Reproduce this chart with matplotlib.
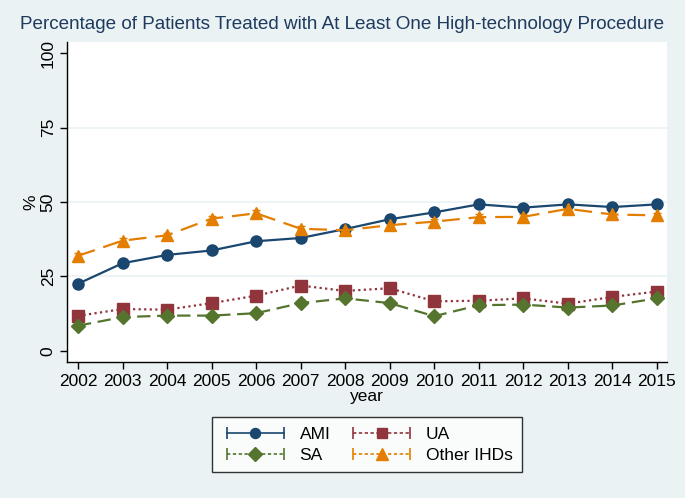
import numpy as np
import matplotlib
matplotlib.use('Agg')
import matplotlib.pyplot as plt
from matplotlib.lines import Line2D
from matplotlib.legend_handler import HandlerLine2D, HandlerTuple

plt.rcParams['font.family'] = ['Liberation Sans', 'DejaVu Sans']

years = list(range(2002, 2016))
ami = [22.5, 29.4, 32.2, 33.7, 36.8, 37.9, 40.9, 44.2, 46.5, 49.2, 48.1, 49.2, 48.3, 49.2]
ua = [11.7, 14.0, 13.8, 16.0, 18.5, 21.9, 20.1, 21.0, 16.6, 16.8, 17.6, 15.8, 18.1, 19.9]
sa = [8.4, 11.3, 11.8, 11.8, 12.6, 16.0, 17.6, 16.0, 11.6, 15.3, 15.5, 14.5, 15.2, 17.6]
other = [31.9, 37.0, 38.8, 44.4, 46.2, 41.0, 40.5, 42.2, 43.4, 44.9, 45.0, 47.7, 45.8, 45.5]
# half-widths of the confidence intervals
ami_err = [0.6, 0.6, 0.6, 0.6, 0.6, 0.6, 0.6, 0.6, 0.6, 0.6, 0.6, 0.6, 0.6, 0.6]
ua_err = [1.2, 1.4, 1.2, 1.4, 1.5, 1.6, 1.4, 1.6, 1.6, 1.4, 1.5, 1.2, 1.5, 1.4]
sa_err = [0.9, 1.0, 0.9, 0.9, 0.9, 1.0, 1.0, 1.0, 1.0, 1.0, 1.0, 0.9, 1.0, 1.0]
other_err = [0.9, 0.9, 0.9, 1.0, 1.0, 0.9, 0.9, 0.9, 0.9, 0.9, 0.9, 0.9, 0.9, 0.9]

navy = '#1a476f'
maroon = '#90353b'
green = '#55752f'
orange = '#e37e00'
bg = '#eaf2f3'

fig = plt.figure(figsize=(6.85, 4.98), dpi=100, facecolor=bg)
ax = fig.add_axes([0.0985, 0.2737, 0.8755, 0.642])
ax.set_facecolor('white')

series = [
    ('AMI', ami, ami_err, navy, '-', 'o', 8),
    ('UA', ua, ua_err, maroon, (0, (1, 1.5)), 's', 8),
    ('SA', sa, sa_err, green, (0, (6, 3)), 'D', 7.5),
    ('Other IHDs', other, other_err, orange, (0, (8, 4)), '^', 9),
]
handles = {}
handler_map = {}
for name, vals, err, col, ls, mk, ms in series:
    ax.errorbar(years, vals, yerr=err, color=col, ls=ls, lw=1.6, marker=mk, ms=ms,
                capsize=3, elinewidth=1, capthick=1, zorder=3)
    cap = Line2D([], [], color=col, lw=1.2, ls='-' if name == 'AMI' else (0, (2, 1.5)),
                 marker='|', markersize=9, markeredgewidth=1.2)
    dot = Line2D([], [], color=col, ls='none', marker=mk, markersize=ms * 0.9)
    handles[name] = (cap, dot)
    handler_map[cap] = HandlerLine2D(numpoints=2)
    handler_map[dot] = HandlerLine2D(numpoints=1)
handler_map[tuple] = HandlerTuple(ndivide=1)

ax.set_xlim(2001.764, 2015.23)
ax.set_ylim(-3.7, 103.8)
ax.set_xticks(years)
ax.set_yticks([0, 25, 50, 75, 100])
ax.set_yticklabels(['0', '25', '50', '75', '100'], rotation=90, va='center')
for y in [25, 50, 75]:
    ax.axhline(y, color=bg, lw=1.2, zorder=1)
for s in ['top', 'right']:
    ax.spines[s].set_visible(False)
for s in ['left', 'bottom']:
    ax.spines[s].set_color('black')
    ax.spines[s].set_linewidth(1.0)
ax.tick_params(labelsize=12.5, length=5, width=1, colors='black')
ax.set_ylabel('%', fontsize=12.5, labelpad=2)
ax.set_xlabel('year', fontsize=12.5, labelpad=0)
fig.suptitle('Percentage of Patients Treated with At Least One High-technology Procedure',
             fontsize=13.6, color='#1e3a5f', y=0.967)

# matplotlib fills legend columns first
order = ['AMI', 'SA', 'UA', 'Other IHDs']
leg = fig.legend([handles[n] for n in order], order, handler_map=handler_map,
                 loc='center', bbox_to_anchor=(0.536, 0.107), ncol=2, fontsize=12.5,
                 frameon=True, fancybox=False, edgecolor='black', facecolor='white',
                 handlelength=3.9, columnspacing=1.0, handletextpad=0.6,
                 borderpad=0.55, labelspacing=0.35)
leg.get_frame().set_linewidth(1.0)

fig.savefig('out.png', dpi=100, facecolor=bg)
